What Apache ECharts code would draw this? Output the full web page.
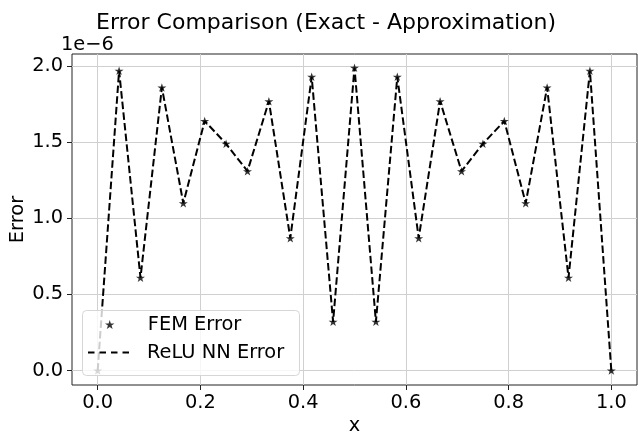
<!DOCTYPE html>
<html>
<head>
<meta charset="utf-8">
<script src="https://cdn.jsdelivr.net/npm/echarts@6/dist/echarts.min.js"></script>
<style>
  html, body { margin: 0; padding: 0; background: #fff; }
  #chart { width: 638px; height: 435px; }
</style>
</head>
<body>
<div id="chart"></div>
<script>
// grid nodes on [0, 1]
const xNodes = [0, 0.04167, 0.08333, 0.125, 0.16667, 0.20833, 0.25, 0.29167, 0.33333,
  0.375, 0.41667, 0.45833, 0.5, 0.54167, 0.58333, 0.625, 0.66667, 0.70833, 0.75,
  0.79167, 0.83333, 0.875, 0.91667, 0.95833, 1.0];
// errors, in units of 1e-6
const femError = [0.0, 1.97, 0.61, 1.86, 1.10, 1.64, 1.49, 1.31, 1.77, 0.87, 1.93, 0.32,
  1.99, 0.32, 1.93, 0.87, 1.77, 1.31, 1.49, 1.64, 1.10, 1.86, 0.61, 1.97, 0.0];
const reluError = [0.0, 1.97, 0.61, 1.86, 1.10, 1.64, 1.49, 1.31, 1.77, 0.87, 1.93, 0.32,
  1.99, 0.32, 1.93, 0.87, 1.77, 1.31, 1.49, 1.64, 1.10, 1.86, 0.61, 1.97, 0.0];
const xTicks = [0, 0.2, 0.4, 0.6, 0.8, 1.0];
const yTicks = [0, 0.5, 1.0, 1.5, 2.0];

const FONT = 'DejaVu Sans';
const STAR = 'path://M0,-10L2.245,-3.09L9.51,-3.09L3.633,1.18L5.878,8.09L0,3.82L-5.878,8.09L-3.633,1.18L-9.51,-3.09L-2.245,-3.09Z';
// legend icon for the dashed line
const DASHES = 'path://M0,0h6.5v2h-6.5zM11.5,0h6.5v2h-6.5zM23,0h6.5v2h-6.5zM34.5,0h6.5v2h-6.5z';

const chart = echarts.init(document.getElementById('chart'));

chart.setOption({
  animation: false,
  title: {
    text: 'Error Comparison (Exact - Approximation)',
    left: 96, top: 12, padding: 0,
    textStyle: { fontFamily: FONT, fontSize: 22, fontWeight: 'normal', color: '#000', lineHeight: 22 }
  },
  grid: {
    left: 72, right: 1, top: 54, bottom: 50,
    outerBoundsMode: 'none', containLabel: false,
    show: true, borderColor: '#222', borderWidth: 1
  },
  graphic: [
    {
      type: 'text', left: 61, top: 35, z: 5,
      style: { text: '1e\u22126', fontFamily: FONT, fontSize: 19.4, fill: '#000' }
    },
    {
      type: 'rect', left: 82, top: 310, z: 3,
      shape: { width: 217, height: 65, r: 4 },
      style: { fill: 'rgba(255,255,255,0.8)', stroke: '#d6d6d6', lineWidth: 1 }
    }
  ],
  legend: [
    {
      data: ['FEM Error'], left: 105, top: 315, padding: 0, z: 4,
      itemWidth: 42, itemHeight: 9, symbolKeepAspect: true,
      textStyle: { fontFamily: FONT, fontSize: 19.4, color: '#000', padding: [0, 0, 0, 12] }
    },
    {
      data: [{ name: 'ReLU NN Error', icon: DASHES }], left: 88, top: 343, padding: 0, z: 4,
      itemWidth: 41, itemHeight: 2, symbolKeepAspect: false,
      itemStyle: { color: '#000' },
      textStyle: { fontFamily: FONT, fontSize: 19.4, color: '#000', padding: [0, 0, 0, 13] }
    }
  ],
  xAxis: {
    type: 'value', min: -0.05, max: 1.05,
    name: 'x', nameLocation: 'middle', nameGap: 30,
    nameTextStyle: { fontFamily: FONT, fontSize: 19.4, color: '#000' },
    axisLine: { show: false, onZero: false },
    axisTick: { show: true, length: 5, customValues: xTicks, lineStyle: { color: '#222' } },
    axisLabel: {
      customValues: xTicks, margin: 8,
      fontFamily: FONT, fontSize: 19.4, color: '#000',
      formatter: v => v.toFixed(1)
    },
    splitLine: { show: true, lineStyle: { color: '#d0d0d0', width: 1 } }
  },
  yAxis: {
    type: 'value', min: -0.095, max: 2.08,
    name: 'Error', nameLocation: 'middle', nameGap: 45, nameMoveOverlap: false,
    nameTextStyle: { fontFamily: FONT, fontSize: 19.4, color: '#000' },
    axisLine: { show: false, onZero: false },
    axisTick: { show: true, length: 5, customValues: yTicks, lineStyle: { color: '#222' } },
    axisLabel: {
      customValues: yTicks, margin: 9,
      fontFamily: FONT, fontSize: 19.4, color: '#000',
      formatter: v => v.toFixed(1)
    },
    splitLine: { show: true, lineStyle: { color: '#d0d0d0', width: 1 } }
  },
  series: [
    {
      name: 'FEM Error', type: 'scatter', z: 2,
      symbol: STAR, symbolSize: 9, symbolKeepAspect: true,
      itemStyle: { color: '#000' },
      data: xNodes.map((x, i) => [x, femError[i]])
    },
    {
      name: 'ReLU NN Error', type: 'line', z: 2,
      symbol: 'none', showSymbol: false,
      lineStyle: { color: '#000', width: 2, type: [7.5, 3.2] },
      itemStyle: { color: '#000' },
      data: xNodes.map((x, i) => [x, reluError[i]])
    }
  ]
});
</script>
</body>
</html>
